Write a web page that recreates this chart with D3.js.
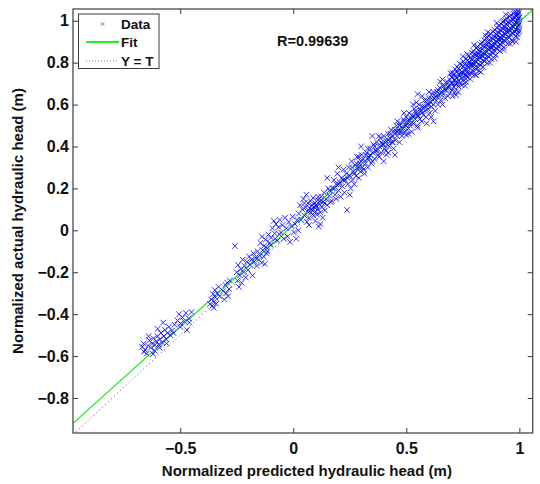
<!DOCTYPE html>
<html><head><meta charset="utf-8">
<script src="https://cdn.jsdelivr.net/npm/d3@7"></script>
<style>html,body{margin:0;padding:0;background:#fff;}svg{display:block;}</style>
</head><body>
<svg id="chart" width="540" height="484"></svg>
<script>
// ---- data (predicted, actual) ----
const lowerPoints = [
[-0.668,-0.556],[-0.662,-0.54],[-0.655,-0.57],[-0.648,-0.588],[-0.642,-0.55],[-0.636,-0.525],[-0.63,-0.56],[-0.624,-0.54],[-0.618,-0.515],[-0.612,-0.548],[-0.606,-0.53],[-0.6,-0.505],[-0.595,-0.545],[-0.59,-0.52],[-0.585,-0.49],[-0.58,-0.535],[-0.575,-0.44],[-0.572,-0.505],[-0.568,-0.475],[-0.562,-0.52],[-0.556,-0.49],[-0.55,-0.46],[-0.544,-0.5],[-0.536,-0.478],[-0.525,-0.45],[-0.512,-0.43],[-0.505,-0.4],[-0.498,-0.445],[-0.49,-0.415],[-0.482,-0.435],[-0.475,-0.395],[-0.47,-0.476],[-0.462,-0.42],[-0.612,-0.575],[-0.64,-0.505],
[-0.62,-0.59],[-0.59,-0.56],[-0.56,-0.54],[-0.53,-0.49],[-0.5,-0.46],[-0.46,-0.44],[-0.45,-0.39],[-0.6,-0.47],[-0.66,-0.58],
[-0.368,-0.352],[-0.362,-0.33],[-0.358,-0.36],[-0.355,-0.305],[-0.35,-0.34],[-0.347,-0.285],[-0.344,-0.32],[-0.34,-0.35],[-0.336,-0.3],[-0.33,-0.27],[-0.325,-0.315],[-0.31,-0.29],[-0.305,-0.33],[-0.3,-0.26],[-0.296,-0.3],[-0.292,-0.25],[-0.288,-0.315],[-0.284,-0.28],[-0.28,-0.24],[-0.352,-0.37],
[-0.258,-0.075],[-0.25,-0.2],[-0.247,-0.24],[-0.244,-0.165],[-0.24,-0.27],[-0.236,-0.215],[-0.232,-0.185],[-0.228,-0.25],[-0.224,-0.14],[-0.22,-0.2],[-0.215,-0.17],[-0.21,-0.225],[-0.205,-0.15],[-0.2,-0.19],[-0.195,-0.125],[-0.19,-0.165],[-0.185,-0.14],[-0.18,-0.215],[-0.176,-0.11],[-0.172,-0.15],[-0.168,-0.13],[-0.162,-0.17],[-0.158,-0.1],[-0.152,-0.14],[-0.148,-0.12],[-0.14,-0.155],[-0.135,-0.095],[-0.13,-0.125],[-0.125,-0.16],[-0.118,-0.11]
];
const middlePoints = [
[-0.145,-0.06],[-0.138,-0.03],[-0.13,-0.075],[-0.122,-0.045],[-0.115,-0.1],[-0.11,-0.02],[-0.104,-0.06],[-0.098,-0.035],[-0.092,0.01],[-0.086,0.045],[-0.082,-0.015],[-0.076,0.03],[-0.07,-0.05],[-0.065,0.015],[-0.06,0.05],[-0.054,-0.01],[-0.048,0.025],[-0.042,-0.04],[-0.036,0.06],[-0.03,0.01],[-0.025,-0.03],[-0.02,0.04],[-0.014,-0.055],[-0.008,0.02],[-0.003,0.065],[0.003,-0.01],[0.008,0.03],[0.013,-0.04],[0.018,0.05],[0.022,0.0],
[-0.12,-0.08],[-0.1,-0.07],[-0.08,-0.04],[-0.06,-0.02],
[0.025,0.08],[0.03,0.12],[0.035,0.05],[0.04,0.1],[0.045,0.15],[0.05,0.07],[0.055,0.11],[0.058,0.17],[0.062,0.09],[0.066,0.13],[0.07,0.06],[0.073,0.105],[0.076,0.14],[0.079,0.085],[0.082,0.12],[0.085,0.095],[0.088,0.155],[0.09,0.07],[0.093,0.11],[0.096,0.13],[0.099,0.09],[0.102,0.115],[0.105,0.075],[0.108,0.145],[0.11,0.1],[0.113,0.018],[0.116,0.125],[0.12,0.085],[0.124,0.16],[0.128,0.11],[0.132,0.135],[0.136,0.18],[0.14,0.095],[0.145,0.15],[0.15,0.12],[0.155,0.2],[0.16,0.165],[0.165,0.135],[0.07,0.025],[0.098,0.045],
[0.06,0.04],[0.08,0.1],[0.1,0.12],[0.12,0.14],[0.14,0.13],[0.16,0.19],[0.18,0.2],[0.2,0.22],[0.22,0.24],[0.24,0.25],[0.19,0.15],[0.13,0.06],[0.05,0.13],[0.11,0.16],
[0.17,0.14],[0.175,0.2],[0.18,0.24],[0.185,0.17],[0.19,0.22],[0.195,0.27],[0.2,0.19],[0.205,0.23],[0.21,0.16],[0.214,0.25],[0.218,0.21],[0.222,0.29],[0.226,0.18],[0.23,0.24],[0.234,0.27],[0.238,0.097],[0.242,0.22],[0.246,0.3],[0.25,0.26],[0.254,0.2],[0.258,0.33],[0.262,0.24],[0.266,0.28],[0.27,0.22],[0.274,0.31],[0.278,0.26],[0.282,0.35],[0.286,0.29],[0.29,0.25],[0.294,0.32],[0.298,0.28],[0.302,0.36],[0.306,0.3],[0.31,0.34],[0.315,0.27],[0.32,0.32],[0.325,0.37],[0.33,0.3],
[0.335,0.35],[0.34,0.39],[0.345,0.32],[0.35,0.37],[0.355,0.41],[0.36,0.34],[0.365,0.38],[0.37,0.42],[0.375,0.36],[0.38,0.4],[0.385,0.44],[0.39,0.37],[0.395,0.41],[0.4,0.45],[0.404,0.39],[0.408,0.43],[0.412,0.36],[0.416,0.41],[0.42,0.46],[0.424,0.4],[0.428,0.44],[0.432,0.48],[0.436,0.42],[0.44,0.45],[0.444,0.39],[0.448,0.47],[0.452,0.43],[0.456,0.5],[0.46,0.45],[0.465,0.48],[0.47,0.42],
[0.26,0.3],[0.27,0.27],[0.28,0.32],[0.29,0.3],[0.3,0.33],[0.31,0.29],[0.32,0.36],[0.33,0.34],[0.34,0.36],[0.35,0.33],[0.36,0.4],[0.37,0.38],[0.38,0.35],[0.39,0.42],[0.4,0.41],[0.41,0.38],[0.42,0.43],[0.43,0.46],[0.44,0.42],[0.45,0.48],[0.46,0.47],[0.47,0.5],[0.48,0.47],[0.49,0.52],[0.5,0.5],[0.51,0.53],[0.52,0.51],[0.53,0.54],[0.54,0.57],[0.55,0.55],[0.56,0.58],[0.57,0.56],[0.58,0.59],[0.59,0.62],[0.6,0.6],[0.61,0.63],[0.62,0.66],[0.63,0.64],[0.64,0.67],[0.65,0.65],[0.66,0.69],[0.67,0.67],[0.68,0.7],[0.69,0.69],[0.7,0.73],[0.695,0.75],[0.705,0.64],[0.66,0.72],[0.6,0.66],[0.55,0.49],[0.51,0.46],[0.46,0.52],[0.42,0.37],[0.38,0.45],[0.33,0.39],[0.29,0.35],
[0.2,0.3],[0.25,0.17],[0.35,0.45],[0.4,0.33],[0.3,0.4],[0.15,0.25],[0.45,0.36],[0.55,0.65],[0.62,0.52],[0.12,0.03],
[0.472,0.47],[0.476,0.51],[0.48,0.45],[0.484,0.49],[0.488,0.53],[0.492,0.47],[0.496,0.5],[0.5,0.54],[0.504,0.48],[0.508,0.52],[0.512,0.56],[0.516,0.5],[0.52,0.535],[0.524,0.47],[0.528,0.55],[0.532,0.51],[0.536,0.58],[0.54,0.53],[0.544,0.56],[0.548,0.5],[0.552,0.545],[0.556,0.6],[0.56,0.53],[0.564,0.57],[0.568,0.52],[0.572,0.59],[0.576,0.55],[0.58,0.62],[0.584,0.57],[0.588,0.54],[0.592,0.6],[0.596,0.58],[0.6,0.63],[0.604,0.56],[0.608,0.61],[0.612,0.59],[0.616,0.65],[0.62,0.6],[0.624,0.63],[0.628,0.57],[0.632,0.62],[0.636,0.66],[0.64,0.6],[0.644,0.64],[0.648,0.68],[0.652,0.62],[0.656,0.66],[0.66,0.6],[0.664,0.65],[0.668,0.69],[0.672,0.63],[0.676,0.67],[0.68,0.71],[0.684,0.64],[0.688,0.68],[0.692,0.72],[0.696,0.66],[0.7,0.7],[0.5,0.455],[0.53,0.6],[0.57,0.64],[0.61,0.54],[0.65,0.71],[0.59,0.51],[0.545,0.61],[0.49,0.56]
];
// upper band: [predicted, [actual values at that predicted value]]
const upperBand = [
[0.703,[0.668,0.702,0.731,0.752]],[0.711,[0.684,0.719,0.748]],[0.716,[0.662,0.695,0.735,0.768]],[0.724,[0.7,0.728,0.757,0.781]],
[0.731,[0.686,0.716,0.744,0.772]],[0.737,[0.703,0.738,0.766,0.795]],[0.745,[0.692,0.725,0.755,0.789]],[0.752,[0.712,0.748,0.779,0.806]],
[0.758,[0.727,0.763,0.792]],[0.764,[0.707,0.741,0.772,0.818]],[0.771,[0.73,0.757,0.787,0.812]],[0.777,[0.745,0.776,0.803,0.834]],
[0.783,[0.722,0.753,0.79,0.822]],[0.79,[0.748,0.781,0.814,0.848]],[0.796,[0.761,0.795,0.829,0.857]],[0.802,[0.742,0.777,0.808,0.84]],
[0.809,[0.768,0.803,0.835,0.869]],[0.815,[0.78,0.816,0.846,0.877]],[0.821,[0.761,0.795,0.83,0.862]],[0.827,[0.786,0.82,0.853,0.888]],
[0.834,[0.797,0.833,0.865,0.896]],[0.84,[0.779,0.812,0.847,0.881]],[0.846,[0.806,0.84,0.874,0.905]],[0.853,[0.818,0.852,0.886,0.917]],
[0.859,[0.798,0.833,0.866,0.9]],[0.865,[0.826,0.861,0.894,0.926]],[0.871,[0.838,0.872,0.905,0.939]],[0.877,[0.817,0.851,0.885,0.918]],
[0.884,[0.845,0.88,0.912,0.947]],[0.89,[0.857,0.891,0.924,0.957]],[0.896,[0.836,0.87,0.903,0.938]],[0.902,[0.864,0.898,0.931,0.965]],
[0.908,[0.877,0.91,0.944,0.976]],[0.914,[0.855,0.889,0.922,0.957]],[0.92,[0.883,0.917,0.951,0.984]],[0.926,[0.896,0.929,0.962,0.994]],
[0.932,[0.873,0.907,0.94,0.975]],[0.938,[0.902,0.936,0.969,1.003]],[0.944,[0.914,0.947,0.981,1.012]],[0.95,[0.891,0.925,0.958,0.993]],
[0.956,[0.92,0.954,0.988,1.02]],[0.962,[0.932,0.965,0.999,1.027]],[0.968,[0.908,0.943,0.976,1.01]],[0.974,[0.938,0.972,1.005,1.034]],
[0.979,[0.949,0.983,1.016,1.04]],[0.984,[0.925,0.96,0.994,1.025]],[0.989,[0.955,0.99,1.021,1.038]],[0.993,[0.935,0.968,1.002,1.03]],
[0.997,[0.946,0.978,1.011,1.036]],[1.0,[0.955,0.985,1.017]]
];
const upperOutliers = [[0.72,0.645],[0.76,0.69],[0.8,0.885],[0.83,0.755],[0.87,0.8],[0.9,0.99],[0.93,0.86],[0.96,0.89],[0.985,0.9],[0.75,0.83],[0.86,0.945],[0.94,1.03],
[0.72,0.71],[0.74,0.75],[0.76,0.74],[0.78,0.8],[0.8,0.79],[0.82,0.84],[0.84,0.83],[0.86,0.88],[0.88,0.87],[0.9,0.92],[0.92,0.91],[0.94,0.96],[0.96,0.95],[0.98,1.0],[0.99,0.92],[0.73,0.66],[0.77,0.84],[0.81,0.74],[0.85,0.93],[0.89,0.82],[0.93,1.0],[0.97,0.9],[0.995,1.045]];

const xLimits = [-0.974, 1.059];
const yLimits = [-0.967, 1.056];
const xTicks = [-0.5, 0, 0.5, 1];
const yTicks = [-0.8, -0.6, -0.4, -0.2, 0, 0.2, 0.4, 0.6, 0.8, 1];
const fitSlope = 0.97, fitIntercept = 0.024;
const rText = "R=0.99639";
const legendLabels = ["Data", "Fit", "Y = T"];
const xTitle = "Normalized predicted hydraulic head (m)";
const yTitle = "Normalized actual hydraulic head (m)";

// ---- drawing ----
const svg = d3.select("#chart");
const L = 73, R = 532.7, T = 9, B = 433;
const x = d3.scaleLinear().domain(xLimits).range([L, R]);
const y = d3.scaleLinear().domain(yLimits).range([B, T]);
const font = "Arial, 'Liberation Sans', Helvetica, sans-serif";
const axisColor = "#3a3a3a";

svg.append("rect").attr("width",540).attr("height",484).attr("fill","#fff");
svg.append("defs").append("clipPath").attr("id","clip")
  .append("rect").attr("x",L).attr("y",T).attr("width",R-L).attr("height",B-T);

const plot = svg.append("g").attr("clip-path","url(#clip)");

// Y = T line
plot.append("line")
  .attr("x1", x(xLimits[0])).attr("y1", y(xLimits[0]))
  .attr("x2", x(xLimits[1])).attr("y2", y(xLimits[1]))
  .attr("stroke","#555").attr("stroke-width",1).attr("stroke-dasharray","1,3");

// Fit line
plot.append("line")
  .attr("x1", x(xLimits[0])).attr("y1", y(fitSlope*xLimits[0]+fitIntercept))
  .attr("x2", x(xLimits[1])).attr("y2", y(fitSlope*xLimits[1]+fitIntercept))
  .attr("stroke","#22ee22").attr("stroke-width",1.3);

// Data
const allPoints = lowerPoints.concat(middlePoints,
  upperBand.flatMap(([p, arr]) => arr.map(a => [p, a])), upperOutliers);
const ms = 2.8;
const xPath = `M${-ms},${-ms}L${ms},${ms}M${-ms},${ms}L${ms},${-ms}`;
plot.append("g").selectAll("path").data(allPoints).join("path")
  .attr("transform", d => `translate(${x(d[0])},${y(d[1])})`)
  .attr("d", xPath)
  .attr("fill","none").attr("stroke","#0000ff").attr("stroke-width",1).attr("stroke-opacity",0.8);

// Axes box
svg.append("rect").attr("x",L).attr("y",T).attr("width",R-L).attr("height",B-T)
  .attr("fill","none").attr("stroke",axisColor).attr("stroke-width",1.2);

// Ticks (inward, all four sides)
const tl = 5;
const xAxisB = svg.append("g").attr("transform",`translate(0,${B})`)
  .call(d3.axisBottom(x).tickValues(xTicks).tickSizeInner(-tl).tickSizeOuter(0).tickPadding(10).tickFormat(d3.format("")));
const xAxisT = svg.append("g").attr("transform",`translate(0,${T})`)
  .call(d3.axisTop(x).tickValues(xTicks).tickSizeInner(-tl).tickSizeOuter(0).tickFormat(""));
const yAxisL = svg.append("g").attr("transform",`translate(${L},0)`)
  .call(d3.axisLeft(y).tickValues(yTicks).tickSizeInner(-tl).tickSizeOuter(0).tickPadding(4).tickFormat(d3.format("")));
const yAxisR = svg.append("g").attr("transform",`translate(${R},0)`)
  .call(d3.axisRight(y).tickValues(yTicks).tickSizeInner(-tl).tickSizeOuter(0).tickFormat(""));
[xAxisB,xAxisT,yAxisL,yAxisR].forEach(g => {
  g.select(".domain").remove();
  g.selectAll(".tick line").attr("stroke",axisColor).attr("stroke-width",1);
  g.selectAll("text").attr("font-family",font).attr("font-weight","bold").attr("font-size",16).attr("fill","#111");
});
xAxisB.selectAll("text").attr("dy","0.71em");

// Axis titles
svg.append("text").attr("x",(L+R)/2+4).attr("y",476).attr("text-anchor","middle")
  .attr("font-family",font).attr("font-weight","bold").attr("font-size",15).attr("fill","#111").text(xTitle);
svg.append("text").attr("transform",`translate(23,${(T+B)/2}) rotate(-90)`).attr("text-anchor","middle")
  .attr("font-family",font).attr("font-weight","bold").attr("font-size",15).attr("fill","#111").text(yTitle);

// R text
svg.append("text").attr("x",312.7).attr("y",46).attr("text-anchor","middle")
  .attr("font-family",font).attr("font-weight","bold").attr("font-size",14.5).attr("fill","#111").text(rText);

// Legend
const lg = svg.append("g");
lg.append("rect").attr("x",78.5).attr("y",14).attr("width",80.5).attr("height",54.5)
  .attr("fill","#fff").attr("stroke",axisColor).attr("stroke-width",1);
const rowsY = [24, 42, 61];
const lx0 = 86, lx1 = 119;
lg.append("path").attr("transform",`translate(${(lx0+lx1)/2},${rowsY[0]})`)
  .attr("d",`M-1.8,-1.8L1.8,1.8M-1.8,1.8L1.8,-1.8`).attr("stroke","#6666cc").attr("stroke-width",0.9).attr("fill","none");
lg.append("line").attr("x1",lx0).attr("x2",lx1).attr("y1",rowsY[1]).attr("y2",rowsY[1])
  .attr("stroke","#22ee22").attr("stroke-width",2);
lg.append("line").attr("x1",lx0).attr("x2",lx1).attr("y1",rowsY[2]).attr("y2",rowsY[2])
  .attr("stroke","#777").attr("stroke-width",1).attr("stroke-dasharray","1,2");
lg.selectAll("text.lab").data(legendLabels).join("text").attr("class","lab")
  .attr("x",121).attr("y",(d,i)=>rowsY[i]).attr("dy","0.36em")
  .attr("font-family",font).attr("font-weight","bold").attr("font-size",13.5).attr("fill","#111")
  .text(d=>d);
</script>
</body></html>
